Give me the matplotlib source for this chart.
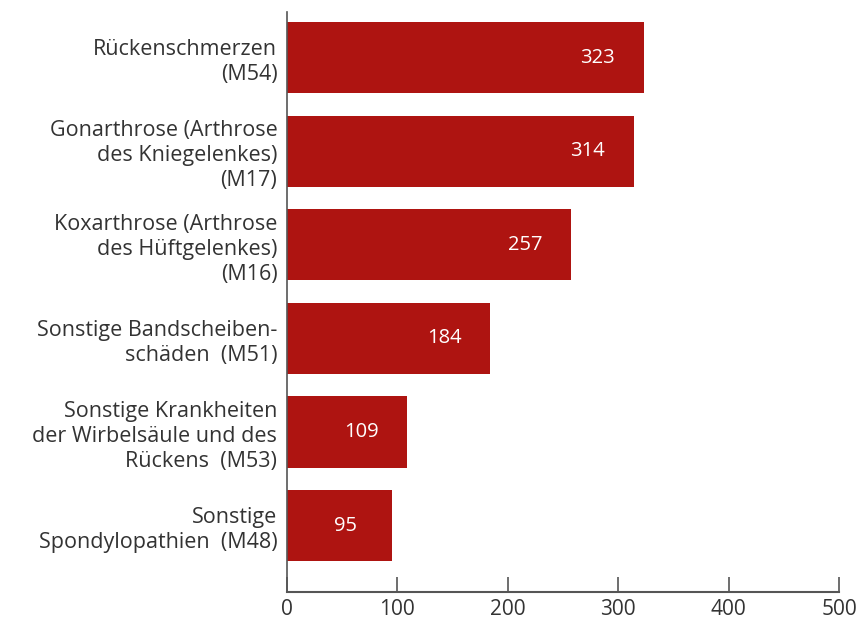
import matplotlib
matplotlib.use('Agg')
import matplotlib.pyplot as plt

categories = [
    'Rückenschmerzen\n(M54)',
    'Gonarthrose (Arthrose\ndes Kniegelenkes)\n(M17)',
    'Koxarthrose (Arthrose\ndes Hüftgelenkes)\n(M16)',
    'Sonstige Bandscheiben-\nschäden  (M51)',
    'Sonstige Krankheiten\nder Wirbelsäule und des\nRückens  (M53)',
    'Sonstige\nSpondylopathien  (M48)',
]
values = [323, 314, 257, 184, 109, 95]
xticks = [0, 100, 200, 300, 400, 500]

bar_color = '#AE1411'
text_color = '#333333'
axis_color = '#555555'

plt.rcParams['font.family'] = ['Open Sans', 'DejaVu Sans']

fig = plt.figure(figsize=(8.58, 6.21), dpi=100)
ax = fig.add_axes([0.3345, 0.0467, 0.6435, 0.934])

pos = list(range(len(categories)))
ax.barh(pos, values, height=0.76, color=bar_color)
for i, v in enumerate(values):
    ax.annotate(str(v), (v, i), xytext=(-46, 0), textcoords='offset pixels',
                ha='center', va='center', color='white', fontsize=14.5)

ax.set_ylim(5.71, -0.49)
ax.set_xlim(0, 500)
ax.set_yticks(pos)
ax.set_yticklabels(categories, fontsize=15.5, color=text_color, linespacing=1.25)
ax.set_xticks(xticks)
ax.set_xticklabels([str(t) for t in xticks], fontsize=15, color=text_color)

ax.tick_params(axis='y', length=0, pad=7)
ax.tick_params(axis='x', direction='in', length=11, width=1.2, color=axis_color, pad=5)
for s in ['top', 'right']:
    ax.spines[s].set_visible(False)
ax.spines['left'].set_color(axis_color)
ax.spines['bottom'].set_color(axis_color)
ax.spines['left'].set_linewidth(1.2)
ax.spines['bottom'].set_linewidth(1.5)

plt.savefig('out.png')
plt.close()
